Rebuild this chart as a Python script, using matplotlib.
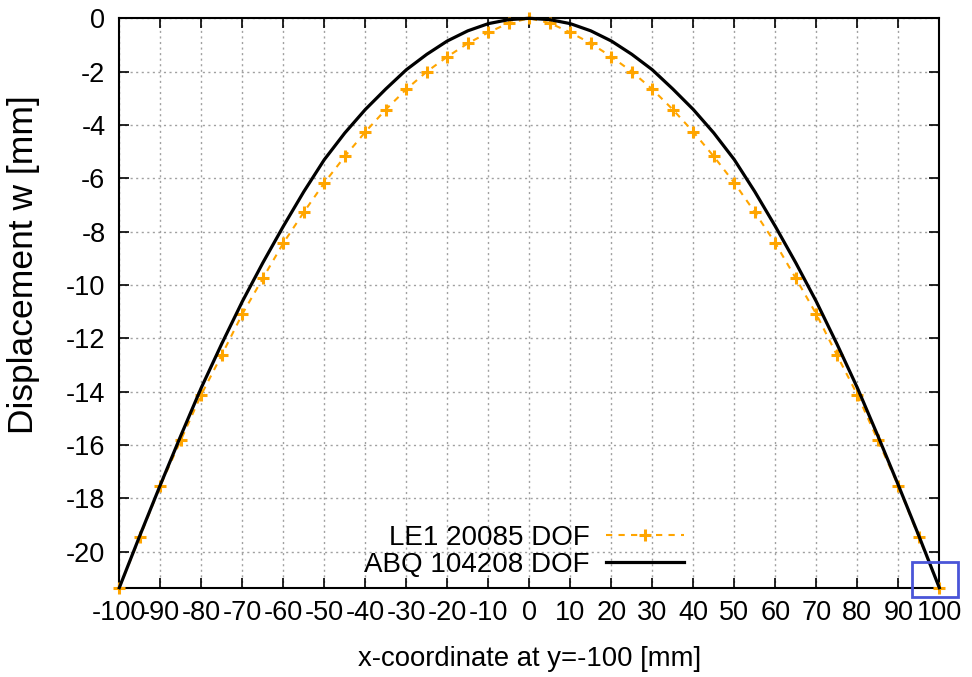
import matplotlib
matplotlib.use("Agg")
import matplotlib.pyplot as plt
from matplotlib.patches import Rectangle

plt.rcParams['font.family'] = ['Liberation Sans', 'DejaVu Sans']

# LE1 20085 DOF (markers every 5 mm)
le1_x = [-100, -95, -90, -85, -80, -75, -70, -65, -60, -55, -50, -45, -40, -35, -30, -25, -20, -15, -10, -5,
         0, 5, 10, 15, 20, 25, 30, 35, 40, 45, 50, 55, 60, 65, 70, 75, 80, 85, 90, 95, 100]
le1_w = [-21.35, -19.45, -17.53, -15.82, -14.11, -12.62, -11.09, -9.75, -8.43, -7.27, -6.17, -5.18, -4.26,
         -3.42, -2.66, -2.00, -1.44, -0.94, -0.53, -0.18,
         0.0,
         -0.18, -0.53, -0.94, -1.44, -2.00, -2.66, -3.42, -4.26, -5.18, -6.17, -7.27, -8.43, -9.75,
         -11.09, -12.62, -14.11, -15.82, -17.53, -19.45, -21.35]

# ABQ 104208 DOF
abq_x = [-100, -95, -90, -85, -80, -75, -70, -65, -60, -55, -50, -45, -40, -35, -30, -25, -20, -15, -10, -5,
         0, 5, 10, 15, 20, 25, 30, 35, 40, 45, 50, 55, 60, 65, 70, 75, 80, 85, 90, 95, 100]
abq_w = [-21.35, -19.40, -17.50, -15.65, -13.85, -12.20, -10.62, -9.17, -7.80, -6.50, -5.30, -4.30, -3.42,
         -2.65, -1.93, -1.35, -0.85, -0.47, -0.20, -0.05,
         0.0,
         -0.05, -0.20, -0.47, -0.85, -1.35, -1.93, -2.65, -3.42, -4.30, -5.30, -6.50, -7.80, -9.17,
         -10.62, -12.20, -13.85, -15.65, -17.50, -19.40, -21.35]

xticks = list(range(-100, 101, 10))
yticks = list(range(-20, 1, 2))

fig = plt.figure(figsize=(9.72, 6.77), dpi=100)
ax = fig.add_axes([119.3 / 972, 1 - 587.7 / 677, (939.3 - 119.3) / 972, (587.7 - 18.3) / 677])

ax.plot(le1_x, le1_w, color='#FFA500', lw=1.5, dashes=(3, 3), marker='+', ms=9, mew=2.2,
        label='LE1 20085 DOF', clip_on=False, zorder=3)
ax.plot(abq_x, abq_w, color='black', lw=2.3, label='ABQ 104208 DOF', clip_on=False, zorder=4)

ax.set_xlim(-100, 100)
ax.set_ylim(-21.35, 0)
ax.set_xticks(xticks)
ax.set_yticks(yticks)
ax.set_xticklabels([str(t) for t in xticks])
ax.set_yticklabels([str(t) for t in yticks])
ax.tick_params(direction='in', length=7, width=1.2, top=True, right=True, labelsize=19.5)
ax.tick_params(axis='y', pad=10)
ax.tick_params(axis='x', pad=9)
ax.grid(True, color='#a0a0a0', linestyle=(0, (1.5, 2.5)), linewidth=1.0)
for s in ax.spines.values():
    s.set_linewidth(1.5)

ax.set_xlabel('x-coordinate at y=-100 [mm]', fontsize=19.8, labelpad=14)
ax.set_ylabel('Displacement w [mm]', fontsize=25.5)
ax.yaxis.set_label_coords(-0.097, 0.567)

leg = ax.legend(loc='lower right', bbox_to_anchor=(684 / 972, 1 - 578 / 677), bbox_transform=fig.transFigure,
                frameon=False, markerfirst=False, fontsize=20, handlelength=2.8, handletextpad=0.6,
                labelspacing=0.05, borderpad=0, borderaxespad=0)

# highlight box at bottom-right corner
ax.add_patch(Rectangle((93.3, -21.71), 11.3, 1.34, fill=False, edgecolor='#4a55d8', lw=2,
                       clip_on=False, zorder=5))

fig.savefig('out.png', dpi=100)
